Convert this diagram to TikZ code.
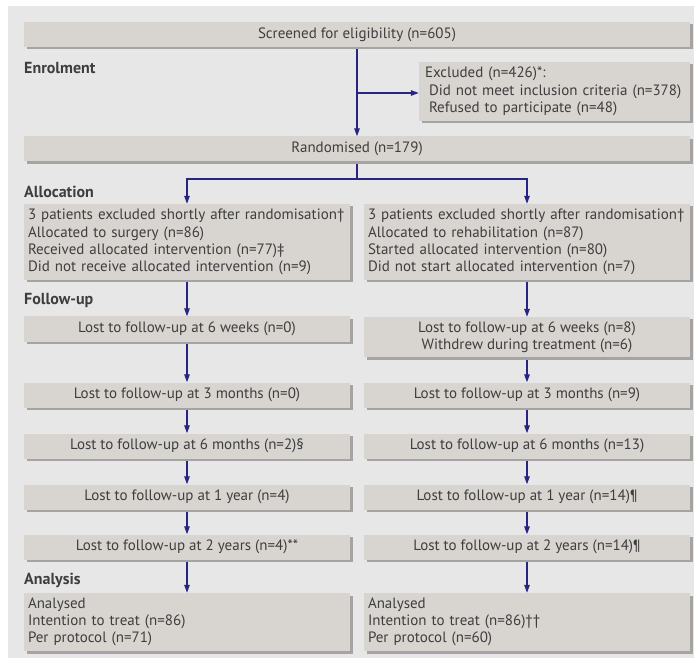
\documentclass[tikz,border=0pt]{standalone}
\usepackage{fontspec}
\setmainfont{PT Sans}
\usetikzlibrary{shadows,arrows.meta}
\pgfdeclarelayer{paper}
\pgfdeclarelayer{edgelayer}
\pgfdeclarelayer{nodelayer}
\pgfsetlayers{paper,edgelayer,nodelayer,main}
\definecolor{panelgray}{RGB}{231,231,231}
\definecolor{boxgray}{RGB}{216,212,208}
\definecolor{shadowgray}{RGB}{166,164,162}
\definecolor{inkgray}{RGB}{62,62,62}
\definecolor{navy}{RGB}{38,38,130}
\tikzstyle{box}=[fill=boxgray, draw=none, text=inkgray, inner xsep=4pt, inner ysep=0pt, font=\fontsize{15}{17.3}\selectfont, drop shadow={shadow xshift=2.5pt, shadow yshift=-2.5pt, fill=shadowgray, opacity=1}]
\tikzstyle{widebox}=[box, minimum width=666pt, minimum height=25pt]
\tikzstyle{halfbox}=[box, minimum width=326pt, minimum height=25pt, align=center]
\tikzstyle{listbox}=[box, text width=318pt, align=left]
\tikzstyle{stage}=[anchor=west, inner sep=0pt, text=inkgray, font=\bfseries\fontsize{16}{18}\selectfont]
\tikzstyle{navyedge}=[draw=navy, line width=1.3pt, -{Triangle[length=8pt, width=5.5pt]}]

\begin{document}
\begin{tikzpicture}[x=1pt, y=-1pt]
	\useasboundingbox (0,0) rectangle (694,663);
	\begin{pgfonlayer}{paper}
		\fill [panelgray] (8,6) rectangle (694,658);
	\end{pgfonlayer}
	\begin{pgfonlayer}{nodelayer}
		\node [style=widebox] (1) at (357,34.5) {Screened for eligibility (n=605)};
		\node [style=listbox, text width=263pt, minimum height=59pt] (2) at (554.5,91.5) {\hspace*{2pt}Excluded (n=426)*:\\\hspace*{6pt}Did not meet inclusion criteria (n=378)\\\hspace*{6pt}Refused to participate (n=48)};
		\node [style=widebox] (3) at (357,149) {Randomised (n=179)};
		\node [style=listbox, minimum height=76pt] (4) at (187,242) {3 patients excluded shortly after randomisation†\\Allocated to surgery (n=86)\\Received allocated intervention (n=77)‡\\Did not receive allocated intervention (n=9)};
		\node [style=listbox, minimum height=76pt] (5) at (527,242) {3 patients excluded shortly after randomisation†\\Allocated to rehabilitation (n=87)\\Started allocated intervention (n=80)\\Did not start allocated intervention (n=7)};
		\node [style=halfbox] (6) at (187,329) {Lost to follow-up at 6 weeks (n=0)};
		\node [style=halfbox, minimum height=40pt] (7) at (527,337) {Lost to follow-up at 6 weeks (n=8)\\Withdrew during treatment (n=6)};
		\node [style=halfbox] (8) at (187,395) {Lost to follow-up at 3 months (n=0)};
		\node [style=halfbox] (9) at (527,395) {Lost to follow-up at 3 months (n=9)};
		\node [style=halfbox] (10) at (187,446) {Lost to follow-up at 6 months (n=2)§};
		\node [style=halfbox] (11) at (527,446) {Lost to follow-up at 6 months (n=13)};
		\node [style=halfbox] (12) at (187,497) {Lost to follow-up at 1 year (n=4)};
		\node [style=halfbox] (13) at (527,497) {Lost to follow-up at 1 year (n=14)¶};
		\node [style=halfbox] (14) at (187,547) {Lost to follow-up at 2 years (n=4)**};
		\node [style=halfbox] (15) at (527,547) {Lost to follow-up at 2 years (n=14)¶};
		\node [style=listbox, minimum height=58pt] (16) at (187,622) {Analysed\\Intention to treat (n=86)\\Per protocol (n=71)};
		\node [style=listbox, minimum height=58pt] (17) at (527,622) {Analysed\\Intention to treat (n=86)††\\Per protocol (n=60)};
		\node [style=stage] (e) at (24,68) {Enrolment};
		\node [style=stage] (a) at (24,192) {Allocation};
		\node [style=stage] (f) at (24,301) {Follow-up};
		\node [style=stage] (n) at (24,580) {Analysis};
	\end{pgfonlayer}
	\begin{pgfonlayer}{edgelayer}
		\coordinate (b1) at (357,93);
		\coordinate (b2) at (357,179);
		\draw [style=navyedge] (1) to (3);
		\draw [style=navyedge] (b1) to (2.west |- b1);
		\draw [style=navyedge] (3) -- (b2) -| (4);
		\draw [style=navyedge] (b2) -| (5);
		\draw [style=navyedge] (4) to (6);
		\draw [style=navyedge] (5) to (7);
		\draw [style=navyedge] (6) to (8);
		\draw [style=navyedge] (7) to (9);
		\draw [style=navyedge] (8) to (10);
		\draw [style=navyedge] (9) to (11);
		\draw [style=navyedge] (10) to (12);
		\draw [style=navyedge] (11) to (13);
		\draw [style=navyedge] (12) to (14);
		\draw [style=navyedge] (13) to (15);
		\draw [style=navyedge] (14) to (16);
		\draw [style=navyedge] (15) to (17);
	\end{pgfonlayer}
\end{tikzpicture}
\end{document}
